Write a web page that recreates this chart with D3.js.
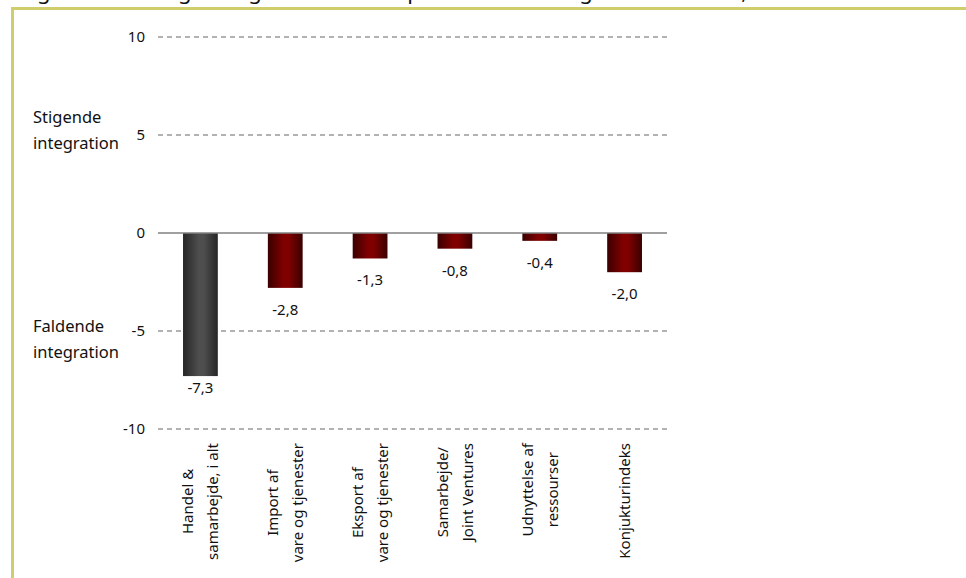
<!DOCTYPE html>
<html>
<head>
<meta charset="utf-8">
<script src="https://cdn.jsdelivr.net/npm/d3@7"></script>
<style>
  body { margin: 0; background: #fff; }
  svg text { font-family: "Noto Sans", sans-serif; fill: #111; }
</style>
</head>
<body>
<div id="chart"></div>
<script>
// Data
const categories = [
  ["Handel &", "samarbejde, i alt"],
  ["Import af", "vare og tjenester"],
  ["Eksport af", "vare og tjenester"],
  ["Samarbejde/", "Joint Ventures"],
  ["Udnyttelse af", "ressourser"],
  ["Konjukturindeks"]
];
const values = [-7.3, -2.8, -1.3, -0.8, -0.4, -2.0];
const seriesKind = ["total", "part", "part", "part", "part", "part"];
const yTicks = [10, 5, 0, -5, -10];
const sideLabels = [
  { value: 5, lines: ["Stigende", "integration"] },
  { value: -5, lines: ["Faldende", "integration"] }
];
const title = "Figur 4: Ændring i integrationsindeks på delområder og samlet indeks, 2008-09";

const W = 966, H = 578;
const margin = { top: 37, left: 158, right: 299, bottom: 149 };
const width = W - margin.left - margin.right;
const height = 429 - margin.top;

const svg = d3.select("#chart").append("svg")
  .attr("width", W).attr("height", H);

// gradients for the bars
const defs = svg.append("defs");
const grads = {
  total: ["#262626", "#4e4e4e", "#262626"],
  part: ["#3a0000", "#800000", "#3a0000"]
};
Object.entries(grads).forEach(([k, c]) => {
  const g = defs.append("linearGradient").attr("id", "g-" + k)
    .attr("x1", "0%").attr("x2", "100%").attr("y1", "0%").attr("y2", "0%");
  g.append("stop").attr("offset", "0%").attr("stop-color", c[0]);
  g.append("stop").attr("offset", "45%").attr("stop-color", c[1]);
  g.append("stop").attr("offset", "60%").attr("stop-color", c[1]);
  g.append("stop").attr("offset", "100%").attr("stop-color", c[2]);
});

// frame
svg.append("line").attr("x1", 12.5).attr("x2", 12.5).attr("y1", 7).attr("y2", H)
  .attr("stroke", "#cfcd6c").attr("stroke-width", 3);
svg.append("line").attr("x1", 11).attr("x2", W).attr("y1", 8.5).attr("y2", 8.5)
  .attr("stroke", "#cfcd6c").attr("stroke-width", 3);

// title, cut off at the top edge as in the source image (only descenders show)
svg.append("text").attr("x", 20).attr("y", -1.5)
  .style("font-size", "22px").text(title);

const g = svg.append("g").attr("transform", `translate(${margin.left},${margin.top})`);

const x = d3.scaleBand().domain(d3.range(categories.length)).range([0, width]).paddingInner(0.59).paddingOuter(0.295);
const y = d3.scaleLinear().domain([-10, 10]).range([height, 0]);

// grid
g.selectAll(".grid").data(yTicks.filter(d => d !== 0)).join("line")
  .attr("x1", 0).attr("x2", width)
  .attr("y1", d => y(d)).attr("y2", d => y(d))
  .attr("stroke", "#666").attr("stroke-width", 1.2)
  .attr("stroke-dasharray", "5,4");

// y axis labels
const yAxis = d3.axisLeft(y).tickValues(yTicks).tickSize(0).tickPadding(13).tickFormat(d => d);
const ya = g.append("g").call(yAxis);
ya.select(".domain").remove();
ya.selectAll("text").style("font-size", "15px").style("font-family", "Noto Sans").attr("fill", "#111");

// side labels
const sideOffset = [-12, 1];
sideLabels.forEach((s, k) => {
  const t = g.append("text").attr("y", y(s.value) + sideOffset[k])
    .style("font-size", "16.5px");
  s.lines.forEach((l, i) => t.append("tspan").attr("x", 33 - margin.left).attr("dy", i ? 26 : 0).text(l));
});

// bars
g.selectAll(".bar").data(values).join("rect")
  .attr("x", (d, i) => x(i))
  .attr("width", x.bandwidth())
  .attr("y", d => y(Math.max(0, d)))
  .attr("height", d => Math.abs(y(d) - y(0)))
  .attr("fill", (d, i) => `url(#g-${seriesKind[i]})`);

// zero line
g.append("line").attr("x1", 0).attr("x2", width).attr("y1", y(0)).attr("y2", y(0))
  .attr("stroke", "#808080").attr("stroke-width", 1.5);

// value labels
const fmt = v => d3.format(".1f")(v).replace(".", ",").replace("−", "-");
g.selectAll(".val").data(values).join("text")
  .attr("x", (d, i) => x(i) + x.bandwidth() / 2)
  .attr("y", (d, i) => y(d) + (seriesKind[i] === "total" ? 17 : 27))
  .attr("text-anchor", "middle")
  .style("font-size", "15px")
  .text(fmt);

// category labels (rotated, block top-aligned)
const labelTop = 443 - margin.top;
categories.forEach((lines, i) => {
  const cx = x(i) + x.bandwidth() / 2;
  const t = g.append("text").attr("text-anchor", "middle").style("font-size", "15px");
  const spans = lines.map((l, j) => t.append("tspan")
    .attr("x", 0).attr("y", (j - (lines.length - 1) / 2) * 25).attr("dy", "0.35em").text(l));
  const maxLen = d3.max(spans, s => s.node().getComputedTextLength());
  t.attr("transform", `translate(${cx},${labelTop + maxLen / 2}) rotate(-90)`);
});
</script>
</body>
</html>
